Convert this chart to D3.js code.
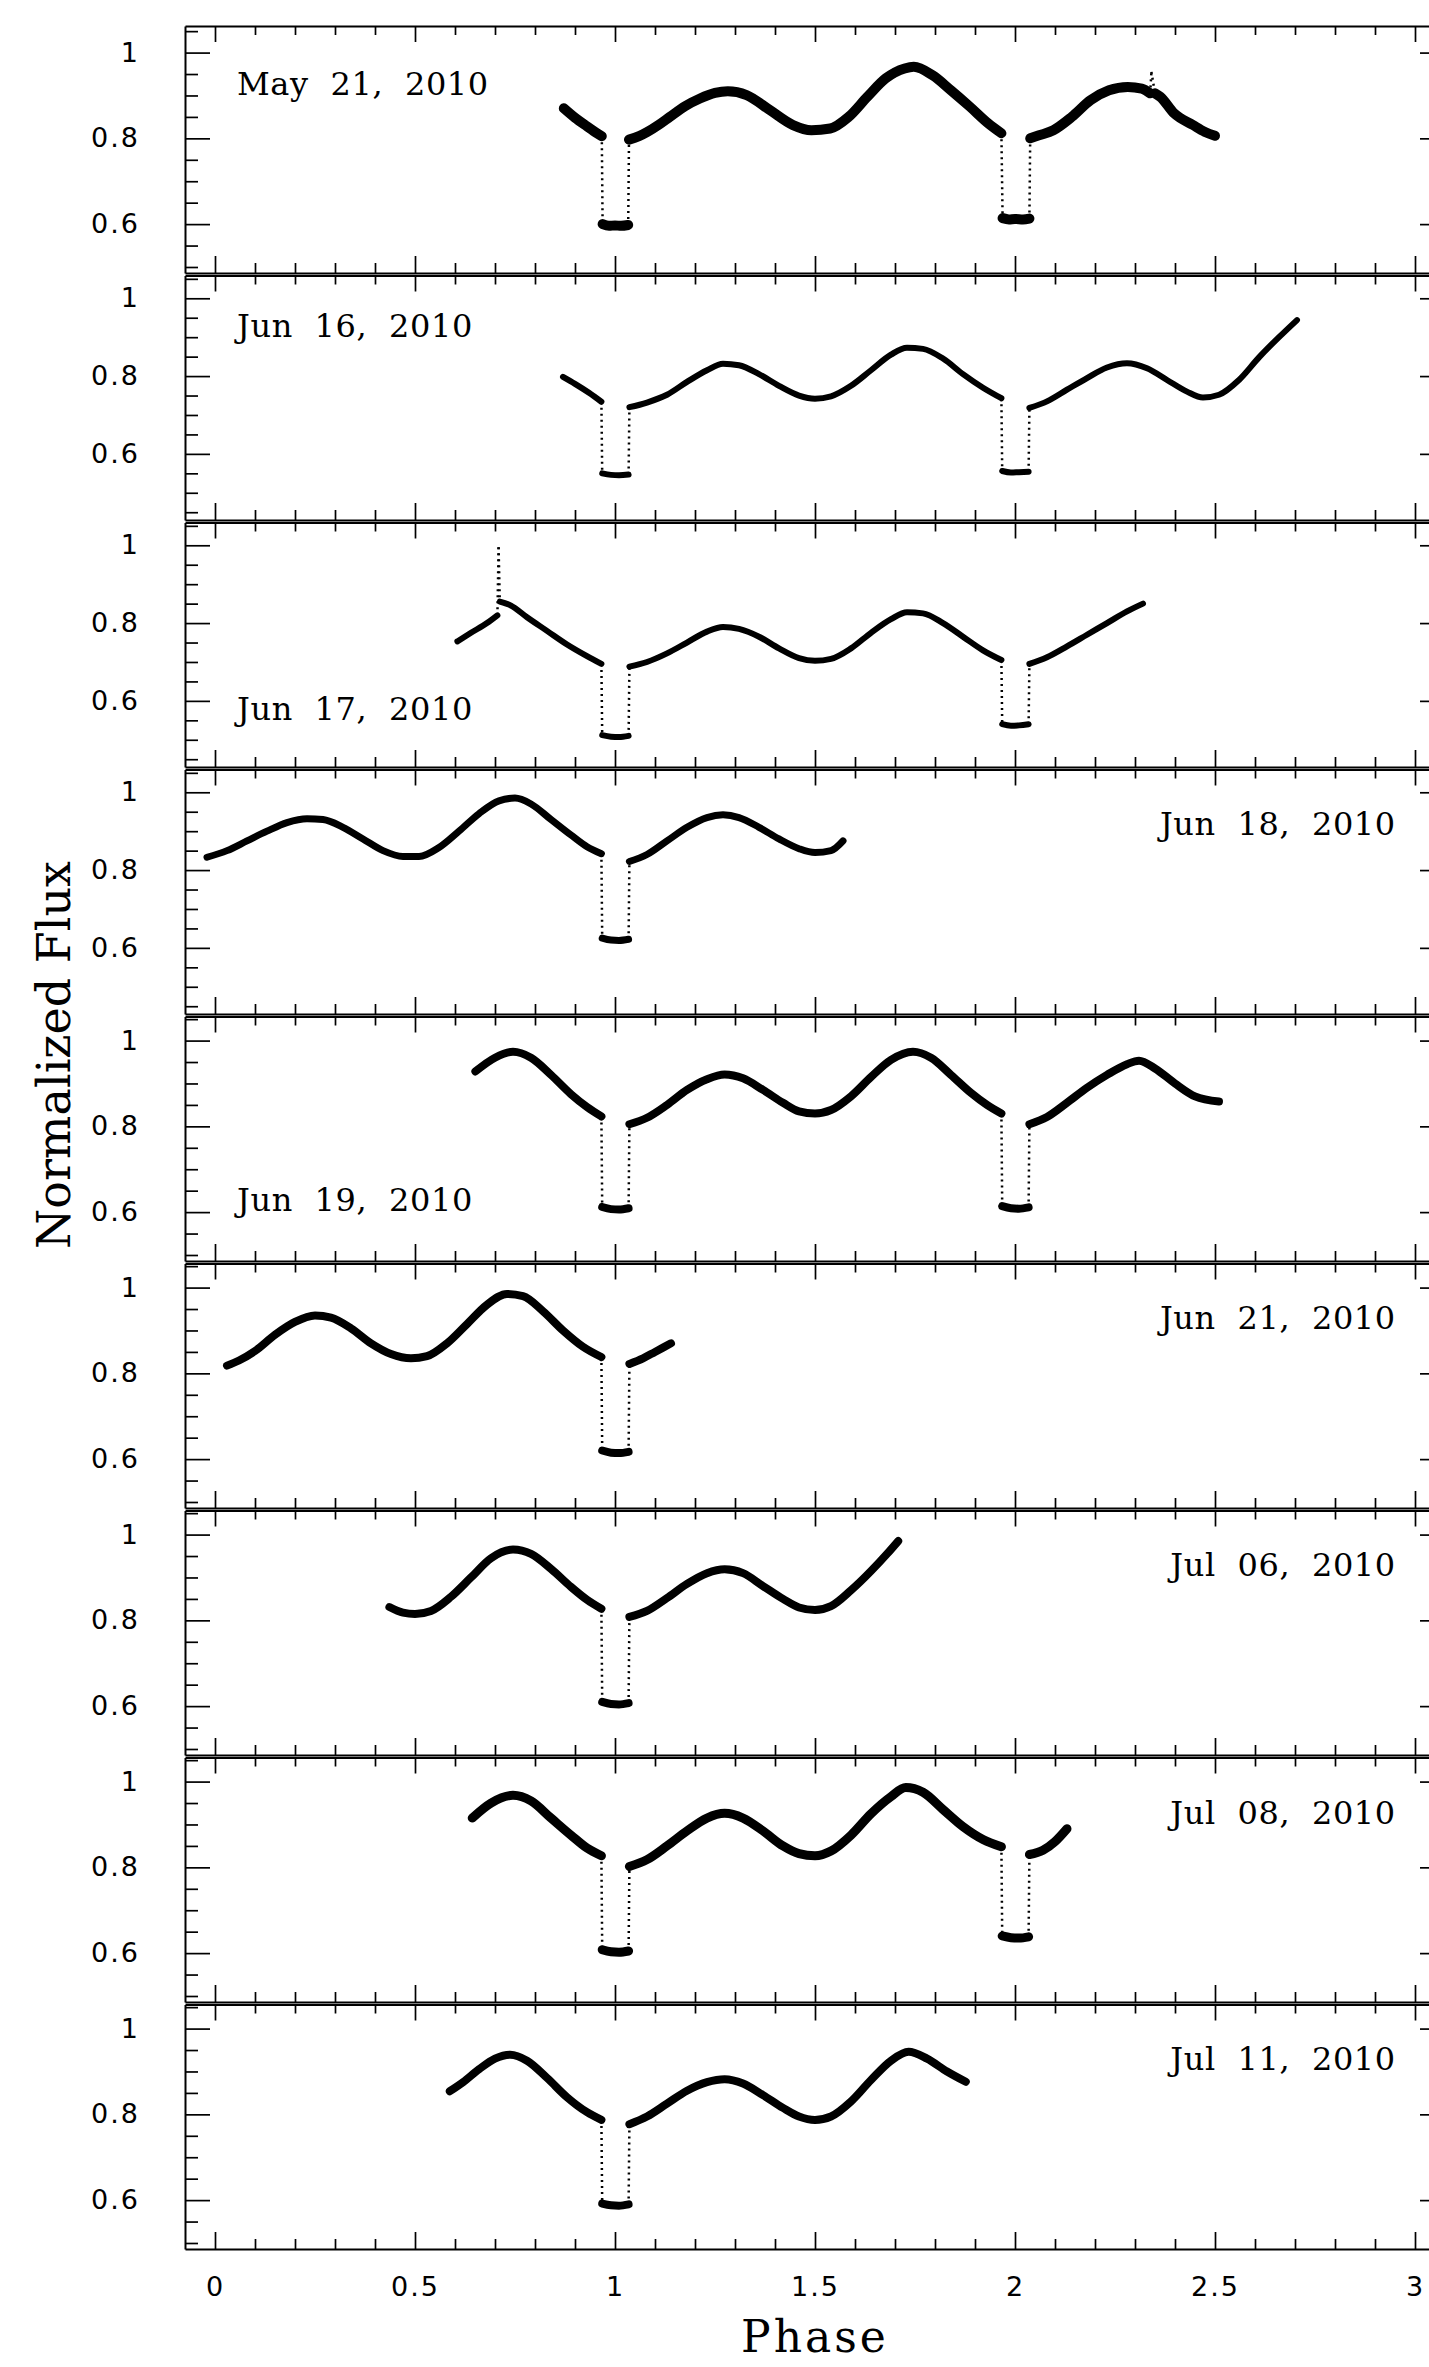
<!DOCTYPE html>
<html>
<head>
<meta charset="utf-8">
<script src="https://cdn.jsdelivr.net/npm/d3@7"></script>
<style>
  body { margin: 0; background: #fff; }
  svg { display: block; }
  .axis path, .axis line { stroke: #000; }
  .axis .domain { stroke-width: 2; }
  .axis .tick line { stroke-width: 1.7; }
  .lbl text { font-family: "DejaVu Sans", sans-serif; font-size: 27px; letter-spacing: 2px; fill: #000; }
</style>
</head>
<body>
<svg id="chart"></svg>
<script>
// night labels, one panel each
const nights = ["May 21, 2010", "Jun 16, 2010", "Jun 17, 2010", "Jun 18, 2010", "Jun 19, 2010",
                "Jun 21, 2010", "Jul 06, 2010", "Jul 08, 2010", "Jul 11, 2010"];

// flux axis range of each panel
const fluxRanges = [[0.486, 1.062], [0.430, 1.065], [0.430, 1.065], [0.430, 1.065], [0.486, 1.062],
                    [0.486, 1.062], [0.486, 1.062], [0.486, 1.062], [0.486, 1.062]];

const phaseTicks = [0, 0.5, 1, 1.5, 2, 2.5, 3];
const fluxTicks = [0.6, 0.8, 1];

// light curves: [phase, normalized flux]
const may21 = [[0.872,0.870],[0.90,0.848],[0.93,0.828],[0.955,0.812],[0.967,0.805],
  [0.969,0.600],[0.985,0.596],[1.00,0.597],[1.015,0.596],[1.033,0.598],
  [1.035,0.797],[1.06,0.805],[1.081,0.815],[1.11,0.832],[1.137,0.850],[1.175,0.875],[1.2125,0.893],
  [1.25,0.906],[1.282,0.910],[1.329,0.901],[1.387,0.866],[1.445,0.831],[1.491,0.819],[1.538,0.823],
  [1.584,0.850],[1.631,0.897],[1.677,0.940],[1.724,0.963],[1.747,0.967],[1.794,0.947],[1.840,0.912],
  [1.887,0.874],[1.933,0.835],[1.966,0.812],
  [1.969,0.614],[1.985,0.611],[2.00,0.612],[2.02,0.611],[2.036,0.613],
  [2.038,0.800],[2.06,0.807],[2.096,0.819],[2.142,0.850],[2.189,0.889],[2.235,0.912],[2.282,0.920],
  [2.317,0.916],[2.338,0.905],[2.341,0.955],[2.350,0.905],[2.363,0.897],[2.398,0.858],[2.445,0.831],
  [2.475,0.815],[2.50,0.806]];

const jun16 = [[0.870,0.798],[0.90,0.780],[0.935,0.757],[0.966,0.734],
  [0.968,0.550],[0.99,0.546],[1.01,0.545],[1.034,0.547],
  [1.036,0.720],[1.08,0.732],[1.13,0.752],[1.18,0.785],[1.23,0.815],[1.27,0.832],[1.31,0.828],
  [1.36,0.805],[1.41,0.775],[1.46,0.750],[1.50,0.742],[1.54,0.748],[1.59,0.775],[1.64,0.815],
  [1.69,0.855],[1.73,0.873],[1.77,0.870],[1.82,0.845],[1.87,0.805],[1.92,0.770],[1.966,0.743],
  [1.968,0.556],[1.99,0.552],[2.01,0.553],[2.034,0.554],
  [2.036,0.718],[2.08,0.735],[2.13,0.765],[2.18,0.795],[2.23,0.822],[2.28,0.833],[2.33,0.820],
  [2.38,0.790],[2.43,0.760],[2.47,0.745],[2.51,0.752],[2.56,0.790],[2.61,0.848],[2.66,0.900],[2.705,0.944]];

const jun17 = [[0.606,0.753],[0.64,0.775],[0.68,0.800],[0.706,0.820],[0.709,0.995],[0.712,0.855],
  [0.74,0.845],[0.78,0.815],[0.83,0.780],[0.88,0.745],[0.93,0.715],[0.966,0.695],
  [0.968,0.512],[0.99,0.508],[1.01,0.507],[1.034,0.510],
  [1.036,0.688],[1.08,0.700],[1.13,0.722],[1.18,0.750],[1.23,0.778],[1.27,0.790],[1.31,0.785],
  [1.36,0.765],[1.41,0.735],[1.46,0.710],[1.50,0.703],[1.54,0.708],[1.59,0.735],[1.64,0.775],
  [1.69,0.810],[1.73,0.828],[1.77,0.825],[1.82,0.800],[1.87,0.765],[1.92,0.730],[1.966,0.705],
  [1.968,0.540],[1.99,0.536],[2.01,0.537],[2.034,0.540],
  [2.036,0.695],[2.08,0.712],[2.13,0.740],[2.18,0.770],[2.23,0.800],[2.28,0.830],[2.32,0.850]];

const jun18 = [[-0.02,0.833],[0.03,0.850],[0.08,0.875],[0.13,0.900],[0.18,0.922],[0.23,0.932],
  [0.27,0.930],[0.32,0.910],[0.37,0.880],[0.42,0.850],[0.47,0.835],[0.51,0.835],[0.56,0.858],
  [0.61,0.900],[0.66,0.945],[0.71,0.978],[0.75,0.985],[0.79,0.970],[0.84,0.930],[0.89,0.890],
  [0.93,0.860],[0.966,0.842],
  [0.968,0.625],[0.99,0.620],[1.01,0.619],[1.034,0.622],
  [1.036,0.822],[1.08,0.840],[1.13,0.875],[1.18,0.910],[1.23,0.935],[1.27,0.942],[1.31,0.935],
  [1.36,0.910],[1.41,0.880],[1.46,0.855],[1.50,0.845],[1.54,0.850],[1.57,0.875]];

const jun19 = [[0.651,0.928],[0.70,0.960],[0.745,0.974],[0.79,0.960],[0.84,0.920],[0.89,0.875],
  [0.93,0.845],[0.966,0.823],
  [0.968,0.612],[0.99,0.607],[1.01,0.606],[1.034,0.609],
  [1.036,0.805],[1.08,0.820],[1.13,0.850],[1.18,0.885],[1.23,0.910],[1.274,0.921],[1.32,0.912],
  [1.37,0.885],[1.42,0.855],[1.46,0.835],[1.50,0.830],[1.54,0.838],[1.59,0.870],[1.64,0.915],
  [1.69,0.955],[1.745,0.974],[1.79,0.960],[1.84,0.920],[1.89,0.878],[1.93,0.850],[1.966,0.830],
  [1.968,0.614],[1.99,0.609],[2.01,0.608],[2.034,0.611],
  [2.036,0.805],[2.08,0.822],[2.13,0.855],[2.18,0.890],[2.23,0.920],[2.28,0.945],[2.31,0.953],
  [2.35,0.935],[2.40,0.900],[2.45,0.870],[2.51,0.858]];

const jun21 = [[0.03,0.818],[0.06,0.830],[0.10,0.852],[0.15,0.890],[0.20,0.920],[0.25,0.935],[0.29,0.930],
  [0.34,0.905],[0.39,0.870],[0.44,0.845],[0.49,0.835],[0.53,0.840],[0.58,0.870],[0.63,0.915],
  [0.68,0.960],[0.73,0.985],[0.77,0.980],[0.82,0.945],[0.87,0.900],[0.92,0.862],[0.966,0.838],
  [0.968,0.620],[0.99,0.615],[1.01,0.614],[1.034,0.617],
  [1.036,0.822],[1.07,0.835],[1.10,0.850],[1.14,0.870]];

const jul06 = [[0.436,0.831],[0.47,0.818],[0.50,0.815],[0.54,0.822],[0.59,0.855],[0.64,0.900],
  [0.69,0.945],[0.745,0.965],[0.79,0.955],[0.84,0.920],[0.89,0.878],[0.93,0.848],[0.966,0.827],
  [0.968,0.610],[0.99,0.605],[1.01,0.604],[1.034,0.607],
  [1.036,0.808],[1.08,0.822],[1.13,0.852],[1.18,0.885],[1.23,0.910],[1.274,0.919],[1.32,0.910],
  [1.37,0.880],[1.42,0.850],[1.46,0.830],[1.50,0.824],[1.54,0.833],[1.59,0.870],[1.64,0.915],
  [1.68,0.955],[1.708,0.985]];

const jul08 = [[0.643,0.915],[0.69,0.950],[0.745,0.968],[0.79,0.955],[0.84,0.915],[0.89,0.875],
  [0.93,0.845],[0.966,0.827],
  [0.968,0.608],[0.99,0.603],[1.01,0.602],[1.034,0.605],
  [1.036,0.802],[1.08,0.818],[1.13,0.850],[1.18,0.885],[1.23,0.915],[1.274,0.926],[1.32,0.915],
  [1.37,0.885],[1.42,0.850],[1.46,0.832],[1.50,0.827],[1.54,0.838],[1.59,0.875],[1.64,0.925],
  [1.69,0.965],[1.727,0.986],[1.77,0.975],[1.82,0.935],[1.87,0.895],[1.92,0.865],[1.966,0.848],
  [1.968,0.640],[1.99,0.636],[2.01,0.635],[2.034,0.638],
  [2.036,0.830],[2.07,0.840],[2.10,0.860],[2.13,0.890]];

const jul11 = [[0.587,0.854],[0.62,0.875],[0.66,0.905],[0.70,0.930],[0.738,0.939],[0.78,0.925],
  [0.83,0.885],[0.88,0.840],[0.93,0.805],[0.966,0.787],
  [0.968,0.592],[0.99,0.588],[1.01,0.587],[1.034,0.590],
  [1.036,0.777],[1.08,0.795],[1.13,0.825],[1.18,0.855],[1.23,0.875],[1.274,0.882],[1.32,0.872],
  [1.37,0.845],[1.42,0.815],[1.46,0.795],[1.50,0.787],[1.54,0.795],[1.59,0.830],[1.64,0.880],
  [1.69,0.925],[1.734,0.946],[1.78,0.930],[1.83,0.900],[1.877,0.876]];

const curves = [may21, jun16, jun17, jun18, jun19, jun21, jul06, jul08, jul11];

// layout
const width = 1429, height = 2367;
const plotLeft = 185, plotRight = 1445;
const firstTop = 26, panelH = 247;
const bandWidth = [10, 6, 6, 7, 8, 8, 8, 9, 8];
// where the date label sits: side and baseline offset from panel top
const labelPlace = [['left', 69], ['left', 64], ['left', 200], ['right', 68], ['left', 197],
                    ['right', 68], ['right', 68], ['right', 69], ['right', 68]];

const svg = d3.select('#chart').attr('width', width).attr('height', height);

const x = d3.scaleLinear().domain([-0.075, 3.075]).range([plotLeft, plotRight]);
const minorX = d3.range(1, 30).map(d => d / 10).filter((d, i) => (i + 1) % 5 !== 0);

function steps(pts) {
  // split a night into smooth runs and the steep ingress/egress jumps
  const runs = [], jumps = [];
  let cur = [pts[0]];
  for (let i = 1; i < pts.length; i++) {
    const a = pts[i - 1], b = pts[i];
    if (Math.abs((b[1] - a[1]) / (b[0] - a[0])) > 5) {
      runs.push(cur); jumps.push([a, b]); cur = [b];
    } else cur.push(b);
  }
  runs.push(cur);
  return { runs: runs.filter(r => r.length > 1), jumps };
}

curves.forEach((pts, i) => {
  const top = firstTop + panelH * i + (i > 0 ? 2.5 : 0);
  const bottom = firstTop + panelH * (i + 1);
  const y = d3.scaleLinear().domain(fluxRanges[i]).range([firstTop + panelH * (i + 1), firstTop + panelH * i]);
  const g = svg.append('g');

  const minorY = d3.range(45, 107, 5).map(d => d / 100)
    .filter(d => d > fluxRanges[i][0] && d < fluxRanges[i][1] && Math.round(d * 100) % 20 !== 0);

  // top and bottom phase axes
  g.append('g').attr('class', 'axis').attr('transform', `translate(0,${top})`)
    .call(d3.axisBottom(x).tickValues(phaseTicks).tickSize(16).tickSizeOuter(0).tickFormat(''));
  g.append('g').attr('class', 'axis').attr('transform', `translate(0,${top})`)
    .call(d3.axisBottom(x).tickValues(minorX).tickSize(9).tickSizeOuter(0).tickFormat(''))
    .select('.domain').remove();
  g.append('g').attr('class', 'axis').attr('transform', `translate(0,${bottom})`)
    .call(d3.axisTop(x).tickValues(phaseTicks).tickSize(17).tickSizeOuter(0).tickFormat(''));
  g.append('g').attr('class', 'axis').attr('transform', `translate(0,${bottom})`)
    .call(d3.axisTop(x).tickValues(minorX).tickSize(10).tickSizeOuter(0).tickFormat(''))
    .select('.domain').remove();

  // left and right flux axes
  const yFrame = y.copy().range([bottom, top]);
  g.append('g').attr('class', 'axis').attr('transform', `translate(${plotLeft},0)`)
    .call(d3.axisRight(yFrame).tickValues([]).tickSizeOuter(0));
  g.append('g').attr('class', 'axis').attr('transform', `translate(${plotLeft},0)`)
    .call(d3.axisRight(y).tickValues(fluxTicks).tickSize(25).tickFormat(''))
    .select('.domain').remove();
  g.append('g').attr('class', 'axis').attr('transform', `translate(${plotLeft},0)`)
    .call(d3.axisRight(y).tickValues(minorY).tickSize(13).tickFormat(''))
    .select('.domain').remove();
  g.append('g').attr('class', 'axis').attr('transform', `translate(${plotRight},0)`)
    .call(d3.axisLeft(yFrame).tickValues([]).tickSizeOuter(0));
  g.append('g').attr('class', 'axis').attr('transform', `translate(${plotRight},0)`)
    .call(d3.axisLeft(y).tickValues(fluxTicks).tickSize(25).tickFormat(''))
    .select('.domain').remove();
  g.append('g').attr('class', 'axis').attr('transform', `translate(${plotRight},0)`)
    .call(d3.axisLeft(y).tickValues(minorY).tickSize(13).tickFormat(''))
    .select('.domain').remove();

  // flux tick labels
  g.append('g').attr('class', 'lbl').attr('transform', `translate(${plotLeft},0)`)
    .call(d3.axisLeft(y).tickValues(fluxTicks).tickSize(0).tickPadding(45)
      .tickFormat(d => d === 1 ? '1' : d3.format('.1f')(d)))
    .call(s => s.select('.domain').remove());

  // light curve
  const { runs, jumps } = steps(pts);
  const line = d3.line().x(d => x(d[0])).y(d => y(d[1])).curve(d3.curveMonotoneX);
  g.selectAll('path.band').data(runs).enter().append('path')
    .attr('class', 'band')
    .attr('d', line)
    .attr('fill', 'none')
    .attr('stroke', '#000')
    .attr('stroke-width', bandWidth[i])
    .attr('stroke-linecap', 'round')
    .attr('stroke-linejoin', 'round');
  g.selectAll('line.jump').data(jumps).enter().append('line')
    .attr('class', 'jump')
    .attr('x1', d => x(d[0][0])).attr('y1', d => y(d[0][1]))
    .attr('x2', d => x(d[1][0])).attr('y2', d => y(d[1][1]))
    .attr('stroke', '#000')
    .attr('stroke-width', 2.5)
    .attr('stroke-dasharray', '2,4');

  // date label
  const [side, off] = labelPlace[i];
  g.append('text')
    .attr('x', side === 'left' ? x(0.055) : x(2.952))
    .attr('y', firstTop + panelH * i + off)
    .attr('text-anchor', side === 'left' ? 'start' : 'end')
    .style('font-family', '"DejaVu Serif", serif')
    .style('font-size', '32px')
    .style('letter-spacing', '0.6px')
    .style('word-spacing', '11px')
    .text(nights[i]);

  // phase labels under the last panel
  if (i === curves.length - 1) {
    g.append('g').attr('class', 'lbl').attr('transform', `translate(0,${bottom})`)
      .call(d3.axisBottom(x).tickValues(phaseTicks).tickSize(0).tickPadding(28).tickFormat(d3.format('~g')))
      .call(s => s.select('.domain').remove());
  }
});

svg.append('text')
  .attr('transform', 'translate(70,1055) rotate(-90)')
  .attr('text-anchor', 'middle')
  .style('font-family', '"DejaVu Serif", serif')
  .style('font-size', '46px')
  .text('Normalized Flux');

svg.append('text')
  .attr('x', (plotLeft + plotRight) / 2)
  .attr('y', 2352)
  .attr('text-anchor', 'middle')
  .style('font-family', '"DejaVu Serif", serif')
  .style('font-size', '44px')
  .style('letter-spacing', '3px')
  .text('Phase');
</script>
</body>
</html>
